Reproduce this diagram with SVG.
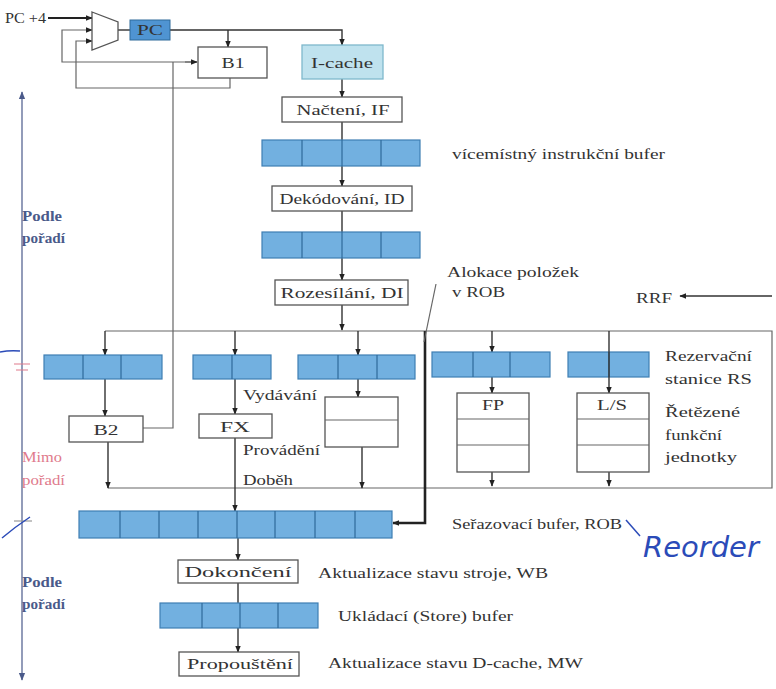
<svg xmlns="http://www.w3.org/2000/svg" width="776" height="689" viewBox="0 0 776 689">
<defs>
<marker id="ah" viewBox="0 0 10 10" refX="9" refY="5" markerWidth="7" markerHeight="7" orient="auto" markerUnits="userSpaceOnUse"><path d="M0,1 L10,5 L0,9 z" fill="#222"/></marker>
<marker id="ahb" viewBox="0 0 10 10" refX="9" refY="5" markerWidth="8" markerHeight="8" orient="auto" markerUnits="userSpaceOnUse"><path d="M0,1 L10,5 L0,9 z" fill="#4a5a8a"/></marker>
<style>
text{font-family:'Liberation Serif','Times New Roman','DejaVu Serif',serif}
.box{fill:#fff;stroke:#555;stroke-width:1.3}
.buf{fill:#72b0e0;stroke:#3f7fb3;stroke-width:1.2}
.cell{stroke:#2f6a9a;stroke-width:1.2}
.t{font-size:15px;fill:#333}
.s{font-size:14.5px;fill:#333}
.c{text-anchor:middle}
.ln{fill:none;stroke:#333;stroke-width:1.4}
.lg{fill:none;stroke:#666;stroke-width:1.2}
.blue{font-size:14px;font-weight:bold;fill:#4a5a8a}
.red{font-size:14px;fill:#e07a8c}
</style>
</defs>
<rect width="776" height="689" fill="#fff"/>

<g id="connectors">
<path d="M48,18 H92" fill="none" stroke="#222" stroke-width="2" marker-end="url(#ah)"/>
<path class="ln" d="M118,30 H130"/>
<path class="ln" d="M170,30 H342 V45" marker-end="url(#ah)"/>
<path class="ln" d="M228,30 V47" marker-end="url(#ah)"/>
<path class="lg" d="M197,62 H62 V30 H92" marker-end="url(#ah)"/>
<path class="lg" d="M185,62 H197" marker-end="url(#ah)"/>
<path class="lg" d="M230,78 V88 H76 V41 H92" marker-end="url(#ah)"/>
<path class="lg" d="M143,428 H173 V62"/>
<path class="ln" d="M342,79 V97" marker-end="url(#ah)"/>
<path class="ln" d="M342,122 V186" marker-end="url(#ah)"/>
<path class="ln" d="M342,211 V280" marker-end="url(#ah)"/>
<path class="ln" d="M342,305 V330" marker-end="url(#ah)"/>
<path class="lg" d="M105,331 H772 V488 H108"/>
<path class="ln" d="M772,296 H680" marker-end="url(#ah)"/>
<path d="M425,331 V523 H393" fill="none" stroke="#222" stroke-width="2.6" marker-end="url(#ah)"/>
<path class="lg" d="M436,284 L424,342"/>
<path class="ln" d="M105,331 V355" marker-end="url(#ah)"/>
<path class="ln" d="M235,331 V355" marker-end="url(#ah)"/>
<path class="ln" d="M358,331 V355" marker-end="url(#ah)"/>
<path class="ln" d="M492,331 V352" marker-end="url(#ah)"/>
<path class="ln" d="M105,379 V416" marker-end="url(#ah)"/>
<path class="ln" d="M235,379 V414" marker-end="url(#ah)"/>
<path class="ln" d="M358,379 V397" marker-end="url(#ah)"/>
<path class="ln" d="M492,377 V393" marker-end="url(#ah)"/>
<path class="ln" d="M108,442 V488" marker-end="url(#ah)"/>
<path class="ln" d="M235,438 V511" marker-end="url(#ah)"/>
<path class="ln" d="M362,447 V488" marker-end="url(#ah)"/>
<path class="ln" d="M492,472 V486" marker-end="url(#ah)"/>
<path class="ln" d="M609,472 V486" marker-end="url(#ah)"/>
<path class="ln" d="M238,538 V560" marker-end="url(#ah)"/>
<path class="ln" d="M238,583 V652" marker-end="url(#ah)"/>
</g>

<g id="mux"><polygon points="92,12 118,22 118,40 92,50" fill="#fff" stroke="#555" stroke-width="1.3"/></g>
<g id="pc4"><text class="s" x="5" y="23" textLength="41" lengthAdjust="spacingAndGlyphs">PC +4</text></g>
<g id="pc"><rect x="130" y="20" width="40" height="20" fill="#4f94d2" stroke="#2f6a9a"/><text class="t c" x="150" y="35" fill="#123" textLength="26" lengthAdjust="spacingAndGlyphs">PC</text></g>
<g id="b1"><rect class="box" x="198" y="47" width="69" height="31"/><text class="t c" x="233" y="68" textLength="23" lengthAdjust="spacingAndGlyphs">B1</text></g>
<g id="icache"><rect x="302" y="45" width="81" height="34" fill="#bfe2ee" stroke="#7fb8cc" stroke-width="1.3"/><text class="t c" x="342" y="68" textLength="62" lengthAdjust="spacingAndGlyphs">I-cache</text></g>
<g id="if"><rect class="box" x="282" y="97" width="120" height="25"/><text class="t c" x="343" y="115" textLength="93" lengthAdjust="spacingAndGlyphs">Načtení, IF</text></g>
<g id="buf1"><rect class="buf" x="262" y="140" width="158" height="26"/><path class="cell" d="M302,140V166M342,140V166M381,140V166"/></g>
<g id="t-buf1"><text class="s" x="452" y="159" textLength="213" lengthAdjust="spacingAndGlyphs">vícemístný instrukční bufer</text></g>
<g id="id"><rect class="box" x="272" y="186" width="140" height="25"/><text class="t c" x="342" y="204" textLength="125" lengthAdjust="spacingAndGlyphs">Dekódování, ID</text></g>
<g id="buf2"><rect class="buf" x="262" y="232" width="158" height="26"/><path class="cell" d="M302,232V258M342,232V258M381,232V258"/></g>
<g id="di"><rect class="box" x="275" y="280" width="133" height="25"/><text class="t c" x="342" y="298" textLength="123" lengthAdjust="spacingAndGlyphs">Rozesílání, DI</text></g>
<g id="t-alok"><text class="s" x="447" y="277" textLength="132" lengthAdjust="spacingAndGlyphs">Alokace položek</text><text class="s" x="452" y="297" textLength="53" lengthAdjust="spacingAndGlyphs">v ROB</text></g>
<g id="rrf"><text class="s" x="636" y="303" textLength="36" lengthAdjust="spacingAndGlyphs">RRF</text></g>

<g id="rs1"><rect class="buf" x="44" y="355" width="118" height="24"/><path class="cell" d="M83,355V379M121,355V379"/></g>
<g id="rs2"><rect class="buf" x="193" y="355" width="78" height="24"/><path class="cell" d="M232,355V379"/></g>
<g id="rs3"><rect class="buf" x="298" y="355" width="117" height="24"/><path class="cell" d="M338,355V379M377,355V379"/></g>
<g id="rs4"><rect class="buf" x="432" y="352" width="118" height="25"/><path class="cell" d="M473,352V377M510,352V377"/></g>
<g id="rs5"><rect class="buf" x="568" y="352" width="81" height="25"/><path class="cell" d="M609,352V377"/></g>
<path class="ln" d="M609,331 V393" marker-end="url(#ah)"/>
<g id="t-rs"><text class="s" x="665" y="361" textLength="87" lengthAdjust="spacingAndGlyphs">Rezervační</text><text class="s" x="665" y="384" textLength="87" lengthAdjust="spacingAndGlyphs">stanice RS</text></g>

<g id="b2"><rect class="box" x="69" y="416" width="74" height="26"/><text class="t c" x="106" y="435" textLength="25" lengthAdjust="spacingAndGlyphs">B2</text></g>
<g id="fx"><rect class="box" x="199" y="414" width="73" height="24"/><text class="t c" x="235" y="432" textLength="30" lengthAdjust="spacingAndGlyphs">FX</text></g>
<g id="u3"><rect class="box" x="325" y="397" width="73" height="50"/><path class="lg" d="M325,420H398"/></g>
<g id="fp"><rect class="box" x="457" y="393" width="72" height="79"/><path class="lg" d="M457,419H529M457,445H529"/><text class="t c" x="493" y="410" textLength="22" lengthAdjust="spacingAndGlyphs">FP</text></g>
<g id="ls"><rect class="box" x="577" y="393" width="72" height="79"/><path class="lg" d="M577,419H649M577,445H649"/><text class="t c" x="612" y="410" textLength="30" lengthAdjust="spacingAndGlyphs">L/S</text></g>
<g id="t-ret"><text class="s" x="665" y="417" textLength="75" lengthAdjust="spacingAndGlyphs">Řetězené</text><text class="s" x="665" y="440" textLength="57" lengthAdjust="spacingAndGlyphs">funkční</text><text class="s" x="665" y="462" textLength="72" lengthAdjust="spacingAndGlyphs">jednotky</text></g>
<g id="t-vyd"><text class="s" x="243" y="400" textLength="74" lengthAdjust="spacingAndGlyphs">Vydávání</text><text class="s" x="243" y="455" textLength="77" lengthAdjust="spacingAndGlyphs">Provádění</text><text class="s" x="243" y="485" textLength="50" lengthAdjust="spacingAndGlyphs">Doběh</text></g>

<g id="rob"><rect class="buf" x="79" y="511" width="313" height="27"/><path class="cell" d="M120,511V538M159,511V538M198,511V538M237,511V538M275,511V538M315,511V538M355,511V538"/></g>
<g id="t-rob"><text class="s" x="452" y="529" textLength="170" lengthAdjust="spacingAndGlyphs">Seřazovací bufer, ROB</text></g>
<g id="wb"><rect class="box" x="178" y="560" width="120" height="23"/><text class="t c" x="238" y="577" textLength="107" lengthAdjust="spacingAndGlyphs">Dokončení</text></g>
<g id="t-wb"><text class="s" x="318" y="578" textLength="230" lengthAdjust="spacingAndGlyphs">Aktualizace stavu stroje, WB</text></g>
<g id="sb"><rect class="buf" x="160" y="603" width="158" height="25"/><path class="cell" d="M202,603V628M240,603V628M278,603V628"/></g>
<g id="t-sb"><text class="s" x="338" y="621" textLength="175" lengthAdjust="spacingAndGlyphs">Ukládací (Store) bufer</text></g>
<g id="mw"><rect class="box" x="179" y="652" width="120" height="24"/><text class="t c" x="240" y="669" textLength="106" lengthAdjust="spacingAndGlyphs">Propouštění</text></g>
<g id="t-mw"><text class="s" x="328" y="668" textLength="255" lengthAdjust="spacingAndGlyphs">Aktualizace stavu D-cache, MW</text></g>

<g id="axis">
<path d="M22,384 V92" fill="none" stroke="#4a5a8a" stroke-width="1.2" marker-end="url(#ahb)"/>
<path d="M22,384 V680" fill="none" stroke="#4a5a8a" stroke-width="1.2" marker-end="url(#ahb)"/>
<path d="M14,364 H30 M16,370 H28" stroke="#e07a8c" stroke-width="1.2"/>
<path d="M14,521 H32" stroke="#999" stroke-width="1.2"/>
<text class="blue" x="22" y="221" textLength="40" lengthAdjust="spacingAndGlyphs">Podle</text><text class="blue" x="22" y="243" textLength="43" lengthAdjust="spacingAndGlyphs">pořadí</text>
<text class="red" x="22" y="462" textLength="40" lengthAdjust="spacingAndGlyphs">Mimo</text><text class="red" x="22" y="485" textLength="43" lengthAdjust="spacingAndGlyphs">pořadí</text>
<text class="blue" x="22" y="587" textLength="40" lengthAdjust="spacingAndGlyphs">Podle</text><text class="blue" x="22" y="609" textLength="43" lengthAdjust="spacingAndGlyphs">pořadí</text>
</g>
<g id="handwriting" fill="none" stroke="#2b4bb8" stroke-width="1.5">
<path d="M0,352 Q10,350 20,351"/>
<path d="M2,538 Q15,527 30,517"/>
<path d="M626,520 L640,536"/>
</g>
<g id="t-reorder"><text x="643" y="557" style="font-family:'DejaVu Sans',sans-serif;font-style:italic" font-size="29" fill="#2b4bb8">Reorder</text></g>
</svg>
